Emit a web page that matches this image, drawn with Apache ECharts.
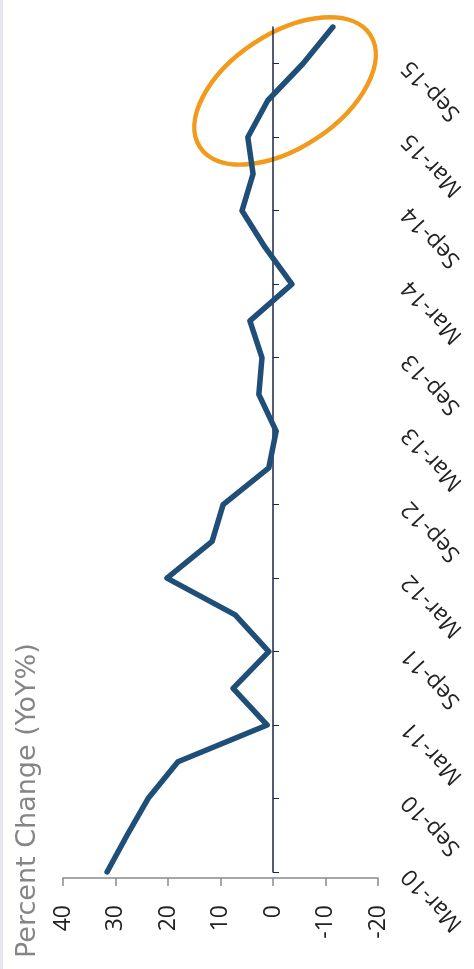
<!DOCTYPE html>
<html>
<head>
<meta charset="utf-8">
<script src="https://cdn.jsdelivr.net/npm/echarts@6/dist/echarts.min.js"></script>
<style>
  html, body { margin: 0; padding: 0; background: #ffffff; }
  #chart { width: 474px; height: 969px; }
</style>
</head>
<body>
<div id="chart"></div>
<script>
// Quarterly periods, oldest first
const quarters = [
  'Mar-10', 'Jun-10', 'Sep-10', 'Dec-10',
  'Mar-11', 'Jun-11', 'Sep-11', 'Dec-11',
  'Mar-12', 'Jun-12', 'Sep-12', 'Dec-12',
  'Mar-13', 'Jun-13', 'Sep-13', 'Dec-13',
  'Mar-14', 'Jun-14', 'Sep-14', 'Dec-14',
  'Mar-15', 'Jun-15', 'Sep-15', 'Dec-15'
];

// Year-over-year change, percent
const yoyChange = [
  31.6, 27.8, 23.8, 18.1,
  1.1, 7.6, 0.8, 7.2,
  20.2, 11.6, 9.5, 0.8,
  -0.6, 2.7, 2.1, 4.4,
  -3.6, 1.5, 5.9, 3.8,
  4.8, 1.0, -5.7, -11.4
];

// Value axis range and step
const valueMin = -20;
const valueMax = 40;
const valueStep = 10;

const axisTitle = 'Percent Change (YoY%)';

// Highlighted recent period (value, fractional category position)
const highlightValue = -2.3;
const highlightPosition = 21.26;

const chart = echarts.init(document.getElementById('chart'), null, { renderer: 'canvas' });

chart.setOption({
  backgroundColor: '#ffffff',
  animation: false,
  grid: { left: 63, right: 96, top: 27, bottom: 97, containLabel: false },
  xAxis: {
    type: 'value',
    inverse: true,
    min: valueMin,
    max: valueMax,
    interval: valueStep,
    offset: 6,
    axisLine: { show: true, lineStyle: { color: '#8a8a8a', width: 1.5 } },
    axisTick: { show: true, length: 8, lineStyle: { color: '#8a8a8a', width: 1.5 } },
    splitLine: { show: false },
    axisLabel: {
      rotate: 90, margin: 27, fontSize: 23,
      fontFamily: 'Open Sans', color: '#222222'
    }
  },
  yAxis: [
    {
      type: 'category',
      data: quarters,
      boundaryGap: false,
      axisLine: { onZero: true, lineStyle: { color: '#1c2642', width: 1.5 } },
      axisTick: { show: true, inside: true, interval: 1, length: 6, lineStyle: { color: '#1c2642', width: 1 } },
      axisLabel: { show: false },
      splitLine: { show: false }
    },
    {
      type: 'category',
      data: quarters,
      boundaryGap: false,
      position: 'right',
      axisLine: { show: false, onZero: false },
      axisTick: { show: false },
      splitLine: { show: false },
      axisLabel: {
        interval: 1, rotate: 133, align: 'right', margin: 28,
        fontSize: 23, fontFamily: 'Open Sans', color: '#222222'
      }
    }
  ],
  series: [{
    type: 'line',
    yAxisIndex: 0,
    data: yoyChange.map((v, i) => [v, quarters[i]]),
    symbol: 'none',
    lineStyle: { color: '#1f4e79', width: 5.5, cap: 'round', join: 'round' }
  }]
});

// Place the highlight ellipse and the axis title
const cx = chart.convertToPixel({ xAxisIndex: 0 }, highlightValue);
const lo = Math.floor(highlightPosition);
const yLo = chart.convertToPixel({ yAxisIndex: 0 }, quarters[lo]);
const yHi = chart.convertToPixel({ yAxisIndex: 0 }, quarters[lo + 1]);
const cy = yLo + (yHi - yLo) * (highlightPosition - lo);

chart.setOption({
  graphic: [
    {
      type: 'line',
      shape: { x1: 1.5, y1: 0, x2: 1.5, y2: 969 },
      style: { stroke: '#e6e7ee', lineWidth: 3 },
      silent: true
    },
    {
      type: 'text',
      x: 41, y: 958,
      rotation: Math.PI / 2,
      style: {
        text: axisTitle,
        fontSize: 27, fontFamily: 'DejaVu Sans',
        fill: '#858585', align: 'left', verticalAlign: 'bottom'
      },
      silent: true
    },
    {
      type: 'ellipse',
      x: cx, y: cy,
      rotation: 33.5 * Math.PI / 180,
      shape: { cx: 0, cy: 0, rx: 102, ry: 57 },
      style: { fill: 'none', stroke: '#f29a1c', lineWidth: 4.5 },
      silent: true
    }
  ]
});
</script>
</body>
</html>
